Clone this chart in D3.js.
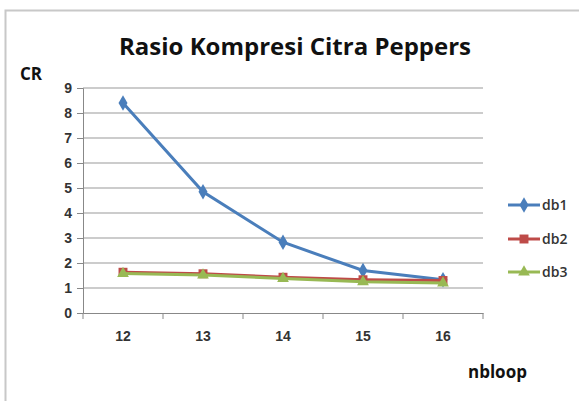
<!DOCTYPE html>
<html>
<head>
<meta charset="utf-8">
<script src="https://cdn.jsdelivr.net/npm/d3@7"></script>
<style>
  body { margin: 0; background: #fff; }
  svg { display: block; font-family: 'Open Sans', sans-serif; }
</style>
</head>
<body>
<svg id="chart" width="579" height="401"></svg>
<script>
// data
const categories = ['12', '13', '14', '15', '16']
const db1 = [8.4, 4.85, 2.83, 1.7, 1.33]
const db2 = [1.63, 1.57, 1.43, 1.33, 1.3]
const db3 = [1.58, 1.52, 1.38, 1.25, 1.2]
const yTicks = [0, 1, 2, 3, 4, 5, 6, 7, 8, 9]

const series = [
  { name: 'db1', values: db1, color: '#4a7ebb', shape: d3.symbolDiamond, size: 70 },
  { name: 'db2', values: db2, color: '#be4b48', shape: d3.symbolSquare, size: 80 },
  { name: 'db3', values: db3, color: '#98b954', shape: d3.symbolTriangle, size: 60 }
]

const margin = { left: 83, top: 88, right: 96, bottom: 88 }
const width = 579 - margin.left - margin.right
const height = 401 - margin.top - margin.bottom

const svg = d3.select('#chart')

// outer chart border
svg.append('rect')
  .attr('x', 5.5)
  .attr('y', 10.5)
  .attr('width', 600)
  .attr('height', 400)
  .attr('fill', 'none')
  .attr('stroke', '#c8c8c8')
  .attr('stroke-width', 2)

const g = svg.append('g')
  .attr('transform', 'translate(' + margin.left + ',' + margin.top + ')')

const xScale = d3.scaleBand().domain(categories).range([0, width])
const yScale = d3.scaleLinear().domain([0, 9]).range([height, 0])

// gridlines
g.append('g')
  .selectAll('line')
  .data(yTicks.filter(d => d > 0))
  .join('line')
  .attr('x1', 0)
  .attr('x2', width)
  .attr('y1', d => yScale(d))
  .attr('y2', d => yScale(d))
  .attr('stroke', '#9a9a9a')
  .attr('stroke-width', 1.2)

// y axis
const yAxis = g.append('g')
  .attr('class', 'y axis')
  .call(d3.axisLeft(yScale).tickValues(yTicks).tickSize(6).tickPadding(5))
yAxis.select('.domain').attr('stroke', '#888')
yAxis.selectAll('.tick line').attr('stroke', '#888')
yAxis.selectAll('text').attr('font-size', 14).attr('font-weight', 600).attr('fill', '#333')

// x axis, ticks at band edges
const xAxis = g.append('g')
  .attr('class', 'x axis')
  .attr('transform', 'translate(0, ' + height + ')')
  .call(d3.axisBottom(xScale).tickSize(0).tickPadding(18))
xAxis.select('.domain').attr('stroke', '#888')
xAxis.selectAll('text').attr('font-size', 14).attr('font-weight', 600).attr('fill', '#333')
xAxis.append('g')
  .selectAll('line')
  .data(categories.concat(['end']))
  .join('line')
  .attr('x1', (d, i) => i * xScale.bandwidth())
  .attr('x2', (d, i) => i * xScale.bandwidth())
  .attr('y1', 0)
  .attr('y2', 6)
  .attr('stroke', '#888')

const cx = c => xScale(c) + xScale.bandwidth() / 2

const line = d3.line()
  .x((d, i) => cx(categories[i]))
  .y(d => yScale(d))

series.forEach(s => {
  g.append('path')
    .datum(s.values)
    .attr('fill', 'none')
    .attr('stroke', s.color)
    .attr('stroke-width', 3)
    .attr('d', line)
  g.append('g')
    .selectAll('path')
    .data(s.values)
    .join('path')
    .attr('transform', (d, i) => 'translate(' + cx(categories[i]) + ',' + yScale(d) + ')')
    .attr('d', d3.symbol().type(s.shape).size(s.size))
    .attr('fill', s.color)
})

// legend
const legend = svg.append('g').attr('transform', 'translate(508, 0)')
const legendY = [205, 239, 272]
series.forEach((s, i) => {
  const lg = legend.append('g').attr('transform', 'translate(0,' + legendY[i] + ')')
  lg.append('line')
    .attr('x1', 0).attr('x2', 32)
    .attr('stroke', s.color).attr('stroke-width', 3)
  lg.append('path')
    .attr('transform', 'translate(16,0)')
    .attr('d', d3.symbol().type(s.shape).size(s.size))
    .attr('fill', s.color)
  lg.append('text')
    .attr('x', 34).attr('y', 5)
    .attr('font-size', 14).attr('font-weight', 600).attr('fill', '#333')
    .text(s.name)
})

// titles
svg.append('text')
  .text('Rasio Kompresi Citra Peppers')
  .attr('x', 295).attr('y', 55)
  .attr('text-anchor', 'middle')
  .attr('font-size', 23)
  .attr('font-weight', 'bold')
  .attr('fill', '#111')
  .attr('textLength', 352)
  .attr('lengthAdjust', 'spacingAndGlyphs')

svg.append('text')
  .text('CR')
  .attr('x', 20).attr('y', 80)
  .attr('font-size', 17)
  .attr('font-weight', 'bold')
  .attr('fill', '#111')

svg.append('text')
  .text('nbloop')
  .attr('x', 468).attr('y', 378)
  .attr('font-size', 17)
  .attr('font-weight', 'bold')
  .attr('fill', '#111')
</script>
</body>
</html>
